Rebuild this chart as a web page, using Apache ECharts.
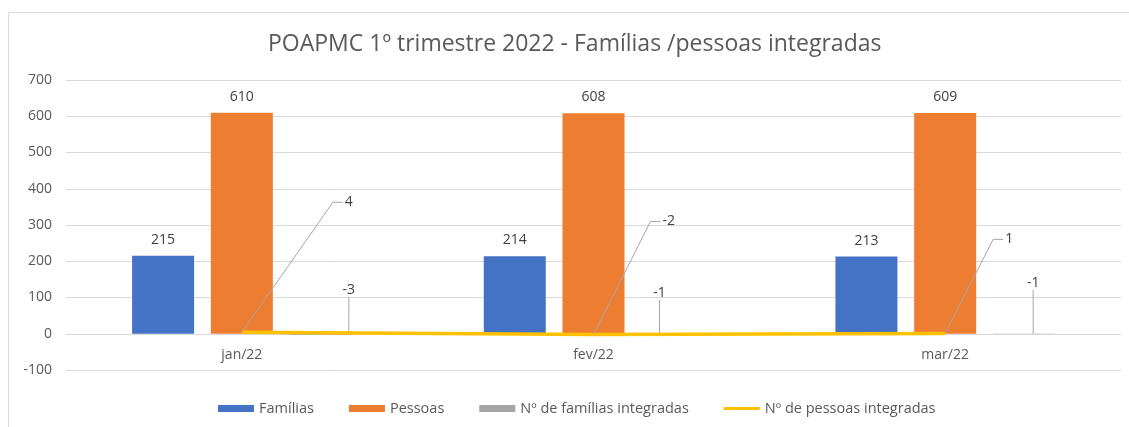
<!DOCTYPE html>
<html>
<head>
<meta charset="utf-8">
<title>POAPMC 1º trimestre 2022</title>
<script src="https://cdn.jsdelivr.net/npm/echarts@6/dist/echarts.min.js"></script>
<style>
  html, body { margin: 0; padding: 0; background: #fff; }
  #chart { width: 1129px; height: 427px; }
</style>
</head>
<body>
<div id="chart"></div>
<script>
// data
var months = ['jan/22', 'fev/22', 'mar/22']
var familias = [215, 214, 213]
var pessoas = [610, 608, 609]
var familiasIntegradas = [-3, -1, -1]
var pessoasIntegradas = [4, -2, 1]
var yTicks = { min: -100, max: 700, step: 100 }

// callout label offsets (px) from the mark, like the excel chart
var famIntShift = [[22, -44], [-19, -41], [3, -51]]
var pesIntShift = [[101, -130], [67, -113], [58, -94]]

var font = 'Open Sans'
var labelColor = '#404040'
var guide = { show: true, length2: 10, lineStyle: { color: '#a6a6a6', width: 1 } }

function callout(shift) {
  return function(params) {
    var s = shift[params.dataIndex]
    var r = params.rect
    return {
      x: r.x + r.width / 2 + s[0],
      y: r.y + (r.height < 3 ? r.height / 2 : 0) + s[1],
      align: 'left',
      verticalAlign: 'middle'
    }
  }
}

var chart = echarts.init(document.getElementById('chart'))
chart.setOption({
  animation: false,
  textStyle: { fontFamily: font },
  title: {
    text: 'POAPMC 1º trimestre 2022 - Famílias /pessoas integradas',
    left: 263,
    top: 28,
    textStyle: { color: '#595959', fontSize: 23, fontWeight: 'normal', fontFamily: font }
  },
  graphic: [{
    type: 'rect',
    shape: { x: 8.5, y: 12.5, width: 1200, height: 500 },
    style: { fill: 'none', stroke: '#d9d9d9', lineWidth: 1 },
    silent: true
  }],
  legend: {
    left: 213,
    top: 396,
    itemWidth: 36,
    itemHeight: 7,
    itemGap: 35,
    textStyle: { color: '#595959', fontSize: 14.5, fontFamily: font },
    data: [
      { name: 'Famílias', icon: 'rect' },
      { name: 'Pessoas', icon: 'rect' },
      { name: 'Nº de famílias integradas', icon: 'rect' },
      { name: 'Nº de pessoas integradas', icon: 'path://M0,0 M0,2 L36,2 L36,5 L0,5 Z M0,7' }
    ]
  },
  grid: { left: 66, right: 8, top: 80, bottom: 57 },
  xAxis: {
    type: 'category',
    data: months,
    axisLine: { show: true, onZero: true, lineStyle: { color: '#d9d9d9' } },
    axisTick: { show: false },
    axisLabel: { color: '#595959', fontSize: 14, margin: -22 }
  },
  yAxis: {
    type: 'value',
    min: yTicks.min,
    max: yTicks.max,
    interval: yTicks.step,
    axisLine: { show: false },
    axisTick: { show: false },
    axisLabel: { color: '#595959', fontSize: 14, margin: 14 },
    splitLine: { lineStyle: { color: '#d9d9d9' } }
  },
  series: [{
    name: 'Famílias',
    type: 'bar',
    barWidth: 62,
    barGap: '27%',
    data: familias,
    itemStyle: { color: '#4472C4' },
    label: { show: true, position: 'top', distance: 9, color: labelColor, fontSize: 14 }
  }, {
    name: 'Pessoas',
    type: 'bar',
    barWidth: 62,
    barGap: '27%',
    data: pessoas,
    itemStyle: { color: '#ED7D31' },
    label: { show: true, position: 'top', distance: 9, color: labelColor, fontSize: 14 }
  }, {
    name: 'Nº de famílias integradas',
    type: 'bar',
    barWidth: 62,
    barGap: '27%',
    data: familiasIntegradas,
    itemStyle: { color: '#A5A5A5' },
    label: { show: true, position: 'top', color: labelColor, fontSize: 14 },
    labelLayout: callout(famIntShift),
    labelLine: guide
  }, {
    name: 'Nº de pessoas integradas',
    type: 'line',
    data: pessoasIntegradas,
    symbol: 'circle',
    symbolSize: 1,
    showSymbol: true,
    z: 5,
    itemStyle: { color: '#FFC000' },
    lineStyle: { color: '#FFC000', width: 3.5 },
    label: {
      show: true, position: 'top', color: labelColor, fontSize: 14,
      padding: [0, 40, 0, 2], backgroundColor: 'rgba(255,255,255,0)'
    },
    labelLayout: callout(pesIntShift),
    labelLine: guide
  }]
})
</script>
</body>
</html>
